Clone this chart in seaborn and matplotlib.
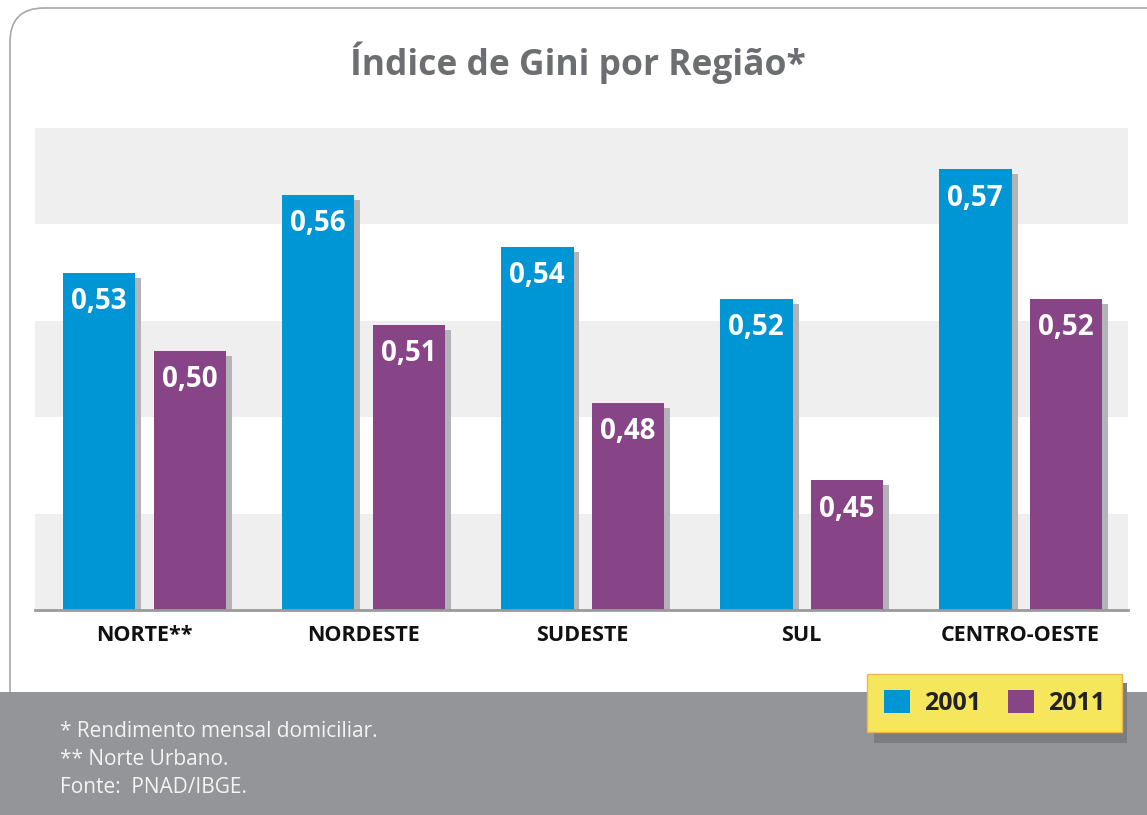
import numpy as np
import pandas as pd
import seaborn as sns
import matplotlib.pyplot as plt
import matplotlib.patheffects as pe
from matplotlib.patches import FancyBboxPatch, Rectangle

# dados
regioes = ["NORTE**", "NORDESTE", "SUDESTE", "SUL", "CENTRO-OESTE"]
gini_2001 = [0.53, 0.56, 0.54, 0.52, 0.57]
gini_2011 = [0.50, 0.51, 0.48, 0.45, 0.52]
anos = ["2001", "2011"]
notas = ["* Rendimento mensal domiciliar.", "** Norte Urbano.", "Fonte:  PNAD/IBGE."]

AZUL = "#0096d6"
ROXO = "#874486"

df = pd.DataFrame({
    "regiao": regioes * 2,
    "gini": gini_2001 + gini_2011,
    "ano": [anos[0]] * len(regioes) + [anos[1]] * len(regioes),
})

sns.set_style("white")
plt.rcParams["font.family"] = ["Open Sans", "DejaVu Sans"]

fig = plt.figure(figsize=(11.47, 8.15), dpi=100)
fig.patch.set_facecolor("white")

# fundo: caixa arredondada, rodapé cinza e sombra da legenda (em pixels)
fundo = fig.add_axes([0, 0, 1, 1], zorder=0)
fundo.set_xlim(0, 1147)
fundo.set_ylim(815, 0)
fundo.axis("off")
fundo.add_patch(FancyBboxPatch((10, 8), 1180, 760, boxstyle="round,pad=0,rounding_size=34",
                               facecolor="white", edgecolor="#a8a8a8", lw=1.2))
fundo.add_patch(Rectangle((0, 692), 1147, 123, facecolor="#939598", edgecolor="none"))
fundo.add_patch(Rectangle((874, 683), 253, 60, facecolor="#7c7d80", edgecolor="none"))
for i, nota in enumerate(notas):
    fundo.text(60, 737 + 28 * i, nota, color="#f4f4f4", fontsize=15, va="baseline")

fig.text(0.504, 0.908, "Índice de Gini por Região*", ha="center", va="baseline",
         fontsize=25.5, fontweight="bold", color="#6d6e71")

ax = fig.add_axes([35 / 1147, 1 - 610 / 815, 1093 / 1147, 482 / 815], zorder=1)
ax.set_facecolor("none")

y0, y1 = 0.40, 0.586
faixas = np.linspace(y0, y1, 6)
for k in range(5):
    if k % 2 == 0:
        ax.axhspan(faixas[k], faixas[k + 1], color="#efefef", lw=0, zorder=0)

sns.barplot(data=df, x="regiao", y="gini", hue="ano", palette=[AZUL, ROXO],
            width=0.83, gap=0.2, saturation=1, linewidth=0, edgecolor="none",
            ax=ax, zorder=2)

for cont in ax.containers:
    for barra in cont:
        barra.set_path_effects([
            pe.SimplePatchShadow(offset=(4.3, -3.6), shadow_rgbFace="#b3b4b7", alpha=1),
            pe.Normal(),
        ])
        v = barra.get_height()
        ax.annotate(f"{v:.2f}".replace(".", ","),
                    (barra.get_x() + barra.get_width() / 2, v),
                    xytext=(0, -26), textcoords="offset points",
                    ha="center", va="baseline", color="white",
                    fontsize=20, fontweight="bold", zorder=3)

ax.set_ylim(y0, y1)
ax.set_xlim(-0.5, 4.49)
ax.set_xlabel("")
ax.set_ylabel("")
ax.set_yticks([])
ax.tick_params(axis="x", length=0, pad=11)
for lab in ax.get_xticklabels():
    lab.set_fontsize(15.5)
    lab.set_fontweight("bold")
    lab.set_color("#111111")
for lado in ["top", "left", "right"]:
    ax.spines[lado].set_visible(False)
ax.spines["bottom"].set_color("#9a9a9a")
ax.spines["bottom"].set_linewidth(2)

leg = ax.legend(loc="center", bbox_to_anchor=(994.5 / 1147, 1 - 703 / 815),
                bbox_transform=fig.transFigure, ncol=2, frameon=True, fancybox=False,
                prop={"weight": "bold", "size": 18}, handlelength=1.05, handleheight=1.05,
                handletextpad=0.55, columnspacing=1.1, borderpad=0.65, title=None)
leg.get_frame().set_facecolor("#f6e65b")
leg.get_frame().set_edgecolor("#f0b64c")
leg.get_frame().set_linewidth(1)
leg.get_frame().set_alpha(1)
for t in leg.get_texts():
    t.set_color("#222222")

fig.savefig("out.png", dpi=100)
